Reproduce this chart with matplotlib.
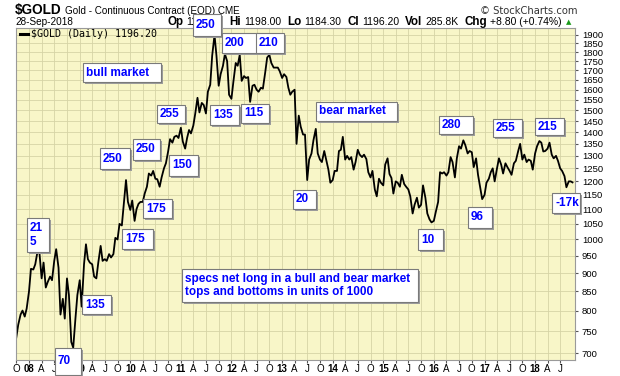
import numpy as np
import pandas as pd
import matplotlib
matplotlib.use('Agg')
import matplotlib.pyplot as plt
from matplotlib.patches import Rectangle
from matplotlib.lines import Line2D
from matplotlib.ticker import FixedLocator, NullLocator, FuncFormatter

plt.rcParams['font.family'] = ['Liberation Sans', 'DejaVu Sans']

# Gold continuous contract, values on the 1st and 15th of every month
gold_2007 = [735, 765, 790, 800, 785, 805]
gold_2008 = [850, 912, 910, 925, 960, 965, 885, 930, 860, 875, 890, 880,
             935, 970, 915, 790, 830, 780, 885, 840, 725, 712, 780, 840]
gold_2009 = [880, 810, 925, 985, 940, 930, 925, 890, 885, 930, 980, 935,
             940, 935, 955, 945, 955, 1005, 1000, 1050, 1045, 1115, 1205, 1125]
gold_2010 = [1097, 1130, 1060, 1100, 1118, 1125, 1125, 1155, 1180, 1230, 1222, 1240,
             1210, 1208, 1180, 1215, 1250, 1270, 1318, 1370, 1355, 1380, 1385, 1375]
gold_2011 = [1420, 1360, 1330, 1375, 1410, 1395, 1430, 1485, 1560, 1490, 1535, 1525,
             1485, 1590, 1625, 1780, 1900, 1780, 1620, 1680, 1725, 1790, 1750, 1575]
gold_2012 = [1555, 1640, 1740, 1725, 1785, 1645, 1670, 1660, 1665, 1540, 1620, 1625,
             1600, 1590, 1610, 1605, 1690, 1770, 1785, 1740, 1715, 1715, 1715, 1695]
gold_2013 = [1660, 1680, 1665, 1610, 1575, 1590, 1600, 1350, 1475, 1425, 1390, 1390,
             1205, 1285, 1310, 1365, 1415, 1310, 1285, 1275, 1320, 1285, 1245, 1195]
gold_2014 = [1205, 1240, 1240, 1320, 1325, 1380, 1285, 1300, 1285, 1295, 1245, 1275,
             1325, 1305, 1295, 1305, 1287, 1235, 1215, 1240, 1170, 1145, 1210, 1195]
gold_2015 = [1185, 1265, 1290, 1228, 1213, 1155, 1200, 1195, 1180, 1225, 1190, 1180,
             1170, 1145, 1085, 1115, 1140, 1105, 1115, 1185, 1140, 1085, 1065, 1055]
gold_2016 = [1060, 1090, 1125, 1235, 1230, 1235, 1222, 1235, 1295, 1275, 1215, 1290,
             1340, 1330, 1365, 1345, 1310, 1320, 1315, 1255, 1290, 1225, 1175, 1135]
gold_2017 = [1150, 1195, 1210, 1235, 1250, 1200, 1250, 1290, 1265, 1230, 1270, 1255,
             1240, 1225, 1270, 1280, 1320, 1350, 1285, 1305, 1275, 1285, 1280, 1245]
gold_2018 = [1310, 1340, 1362, 1355, 1318, 1320, 1330, 1355, 1305, 1290, 1300, 1280,
             1250, 1240, 1220, 1178, 1200, 1200, 1196.2]

dates = list(pd.date_range('2007-10-01', '2018-09-15', freq='SMS')) + [pd.Timestamp('2018-09-28')]
prices = (gold_2007 + gold_2008 + gold_2009 + gold_2010 + gold_2011 + gold_2012 +
          gold_2013 + gold_2014 + gold_2015 + gold_2016 + gold_2017 + gold_2018)
assert len(dates) == len(prices)

price_ticks = list(range(700, 1901, 50))
quarter_ticks = pd.date_range('2007-10-01', '2018-07-01', freq='QS-JAN')
month_letters = {4: 'A', 7: 'J', 10: 'O'}

# annotation boxes: (left, top, right, bottom) in pixels, text
notes = [
    ((27, 218, 49, 252), '21\n5'),
    ((55, 348, 81, 375), '70'),
    ((82, 295, 111, 314), '135'),
    ((122, 229, 153, 249), '175'),
    ((143, 199, 172, 218), '175'),
    ((100, 148, 130, 169), '250'),
    ((133, 139, 160, 160), '250'),
    ((169, 155, 198, 176), '150'),
    ((157, 105, 185, 123), '255'),
    ((83, 63, 161, 82), 'bull market'),
    ((193, 14, 221, 36), '250'),
    ((210, 105, 239, 125), '135'),
    ((222, 33, 259, 53), '200'),
    ((241, 104, 269, 123), '115'),
    ((256, 33, 284, 53), '210'),
    ((316, 102, 397, 121), 'bear market'),
    ((293, 190, 316, 209), '20'),
    ((418, 229, 443, 250), '10'),
    ((439, 116, 473, 134), '280'),
    ((468, 207, 492, 228), '96'),
    ((493, 119, 522, 137), '255'),
    ((535, 118, 564, 135), '215'),
    ((552, 193, 580, 213), '-17k'),
    ((182, 269, 418, 302), 'specs net long in a bull and bear market\ntops and bottoms in units of 1000'),
]

W, H = 620, 376
fig = plt.figure(figsize=(6.2, 3.76), dpi=100)


def fx(px):
    return px / W


def fy(py):
    return 1 - py / H


ax = fig.add_axes([fx(16), fy(360), fx(575) - fx(16), fy(28) - fy(360)])
ax.set_facecolor('#f8f6c8')
ax.plot(dates, prices, color='black', lw=1.3)

ax.set_yscale('log')
ax.set_ylim(685, 1942)
ax.set_xlim(pd.Timestamp('2007-09-29'), pd.Timestamp('2018-10-16'))

ax.yaxis.tick_right()
ax.yaxis.set_major_locator(FixedLocator(price_ticks))
ax.yaxis.set_minor_locator(NullLocator())
ax.yaxis.set_major_formatter(FuncFormatter(lambda v, p: f'{v:.0f}'))
ax.tick_params(axis='y', which='both', labelsize=6.8, length=2, pad=3, colors='#555555',
               labelcolor='black')

ax.set_xticks(quarter_ticks)
xlabels = [d.strftime('%y') if d.month == 1 else month_letters[d.month] for d in quarter_ticks]
ax.set_xticklabels(xlabels)
for lab, d in zip(ax.get_xticklabels(), quarter_ticks):
    if d.month == 1:
        lab.set_fontweight('bold')
ax.tick_params(axis='x', labelsize=7, length=2, pad=1, colors='#555555', labelcolor='black')

ax.grid(True, color='#d6d4a6', lw=0.6)
for s in ax.spines.values():
    s.set_color('#9a9a9a')
    s.set_linewidth(0.8)

# legend line inside the chart
fig.add_artist(Line2D([fx(20), fx(28)], [fy(34), fy(34)], color='black', lw=2.2))
fig.text(fx(31), fy(34), '$GOLD (Daily) 1196.20', family='DejaVu Sans Mono',
         fontsize=7.2, va='center', ha='left')

# header
fig.text(fx(15), fy(10), '$GOLD', fontsize=9.8, fontweight='bold', va='center')
fig.text(fx(65), fy(10.5), 'Gold - Continuous Contract (EOD) CME', fontsize=7.1, va='center')
fig.text(fx(578), fy(10.5), '\u00a9 StockCharts.com', family='DejaVu Sans', fontsize=7.2,
         va='center', ha='right', color='#333333')
fig.text(fx(15), fy(22), '28-Sep-2018', fontsize=7.2, va='center')

renderer = fig.canvas.get_renderer()
pieces = [('Op', True), ('1187.90', False), ('Hi', True), ('1198.00', False),
          ('Lo', True), ('1184.30', False), ('Cl', True), ('1196.20', False),
          ('Vol', True), ('285.8K', False), ('Chg', True), ('+8.80 (+0.74%)', False)]
xpos = 167
for txt, bold in pieces:
    t = fig.text(fx(xpos), fy(22), txt, fontsize=8.4 if bold else 7.5,
                 fontweight='bold' if bold else 'normal', va='center', ha='left')
    w = t.get_window_extent(renderer=renderer).width
    xpos += w + (3 if bold else 6)
fig.text(fx(xpos - 2), fy(22), '\u25b2', family='DejaVu Sans', fontsize=5, color='#1a9a1a',
         va='center', ha='left')

# annotation boxes
for (x0, y0, x1, y1), txt in notes:
    fig.add_artist(Rectangle((fx(x0 + 2), fy(y1 + 2)), (x1 - x0) / W, (y1 - y0) / H,
                             transform=fig.transFigure, fc='#9c9c9c', ec='none', zorder=5))
    fig.add_artist(Rectangle((fx(x0), fy(y1)), (x1 - x0) / W, (y1 - y0) / H,
                             transform=fig.transFigure, fc='white', ec='#7a7a7a', lw=0.8,
                             zorder=6))
    fig.text(fx(x0 + 3), fy((y0 + y1) / 2), txt, color='#0000ff', fontweight='bold',
             fontsize=8.5, va='center', ha='left', linespacing=1.15, zorder=7)

fig.savefig('out.png', dpi=100, facecolor='white')
